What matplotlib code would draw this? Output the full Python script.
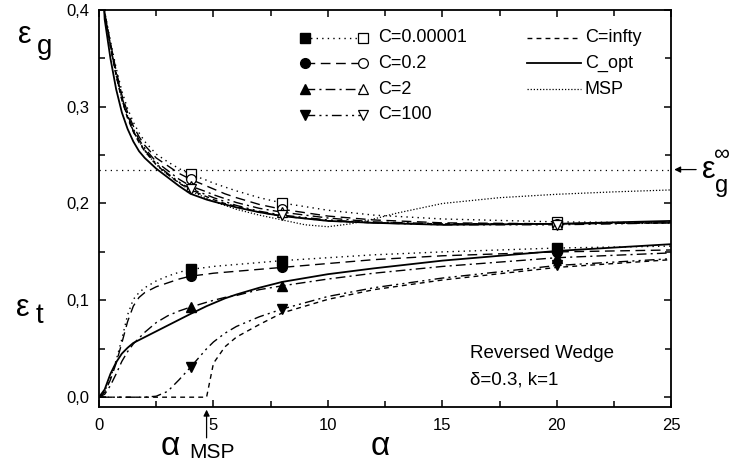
import matplotlib.pyplot as plt
import numpy as np

plt.rcParams['font.family'] = ['Liberation Sans', 'DejaVu Sans']

# alpha grid shared by the C curves
alpha = [0, 0.25, 0.5, 0.75, 1, 1.25, 1.5, 1.75, 2, 2.5, 3, 3.5, 4, 4.7, 5,
         5.5, 6, 7, 8, 10, 12, 15, 20, 25]

# generalisation error eps_g (upper curves)
eg_c00001 = [0.5, 0.398, 0.368, 0.340, 0.316, 0.298, 0.284, 0.273, 0.264, 0.251, 0.243, 0.236,
             0.230, 0.224, 0.221, 0.217, 0.213, 0.206, 0.2005, 0.193, 0.188, 0.184, 0.181, 0.180]
eg_c02 = [0.5, 0.397, 0.366, 0.337, 0.312, 0.294, 0.280, 0.269, 0.260, 0.247, 0.239, 0.231,
          0.225, 0.218, 0.215, 0.210, 0.206, 0.199, 0.194, 0.187, 0.183, 0.180, 0.179, 0.180]
eg_c2 = [0.5, 0.396, 0.364, 0.335, 0.310, 0.291, 0.277, 0.266, 0.257, 0.243, 0.234, 0.225,
         0.218, 0.212, 0.209, 0.205, 0.201, 0.195, 0.191, 0.185, 0.181, 0.179, 0.179, 0.181]
eg_c100 = [0.5, 0.396, 0.363, 0.333, 0.308, 0.289, 0.275, 0.264, 0.255, 0.241, 0.231, 0.222,
           0.215, 0.209, 0.206, 0.202, 0.198, 0.192, 0.188, 0.183, 0.180, 0.178, 0.178, 0.180]
eg_cinf = [0.5, 0.395, 0.362, 0.332, 0.307, 0.288, 0.274, 0.263, 0.254, 0.240, 0.230, 0.221,
           0.214, 0.207, 0.204, 0.200, 0.197, 0.191, 0.187, 0.182, 0.180, 0.179, 0.179, 0.180]
eg_copt = [0.5, 0.390, 0.350, 0.318, 0.294, 0.277, 0.264, 0.254, 0.247, 0.236, 0.227, 0.218,
           0.210, 0.204, 0.202, 0.199, 0.196, 0.191, 0.187, 0.182, 0.180, 0.178, 0.179, 0.182]

# training error eps_t (lower curves)
et_c00001 = [0, 0.006, 0.020, 0.038, 0.060, 0.085, 0.101, 0.108, 0.113, 0.120, 0.125, 0.129,
             0.132, 0.134, 0.135, 0.136, 0.137, 0.139, 0.141, 0.144, 0.147, 0.150, 0.154, 0.156]
et_c02 = [0, 0.005, 0.018, 0.035, 0.056, 0.078, 0.094, 0.103, 0.108, 0.114, 0.118, 0.122,
          0.125, 0.127, 0.128, 0.129, 0.130, 0.132, 0.134, 0.138, 0.142, 0.146, 0.150, 0.152]
et_c2 = [0, 0.003, 0.012, 0.024, 0.037, 0.047, 0.055, 0.061, 0.067, 0.077, 0.084, 0.089,
         0.093, 0.098, 0.100, 0.103, 0.105, 0.111, 0.115, 0.122, 0.128, 0.135, 0.144, 0.149]
et_c100 = [0, 0, 0, 0, 0, 0, 0, 0, 0, 0.001, 0.006, 0.018,
           0.031, 0.050, 0.057, 0.066, 0.073, 0.083, 0.091, 0.104, 0.113, 0.123, 0.136, 0.143]
et_cinf = [0, 0, 0, 0, 0, 0, 0, 0, 0, 0, 0, 0,
           0, 0, 0.035, 0.052, 0.062, 0.075, 0.087, 0.101, 0.111, 0.121, 0.134, 0.142]
et_copt = [0, 0.008, 0.024, 0.036, 0.045, 0.051, 0.056, 0.059, 0.062, 0.068, 0.074, 0.080,
           0.086, 0.094, 0.097, 0.102, 0.106, 0.113, 0.119, 0.127, 0.133, 0.141, 0.151, 0.158]

# MSP generalisation error
alpha_msp_curve = [0, 0.25, 0.5, 0.75, 1, 1.5, 2, 2.5, 3, 4, 5, 6, 7, 8, 9, 10, 11, 12, 13,
                   14, 15, 17.5, 20, 22.5, 25]
eg_msp = [0.5, 0.395, 0.362, 0.332, 0.307, 0.274, 0.254, 0.240, 0.230, 0.213, 0.202, 0.194,
          0.188, 0.183, 0.178, 0.176, 0.179, 0.184, 0.190, 0.195, 0.200, 0.206, 0.2095, 0.212, 0.214]

eg_inf = 0.235
alpha_msp = 4.7
marker_alpha = [4, 8, 20]

legend_labels = ['C=0.00001', 'C=0.2', 'C=2', 'C=100']
legend_labels2 = ['C=infty', 'C_opt', 'MSP']
xtick_vals = [0, 5, 10, 15, 20, 25]
ytick_vals = [0.0, 0.1, 0.2, 0.3, 0.4]
ytick_labels = ['0,0', '0,1', '0,2', '0,3', '0,4']

styles = [(0, (1, 3)), (0, (7, 4)), (0, (7, 3, 1.5, 3)), (0, (7, 3, 1.5, 3, 1.5, 3))]
markers = ['s', 'o', '^', 'v']
msizes = [6.5, 7, 7.5, 7.5]
eg_list = [eg_c00001, eg_c02, eg_c2, eg_c100]
et_list = [et_c00001, et_c02, et_c2, et_c100]

fig = plt.figure(figsize=(7.33, 4.65), dpi=100)
ax = fig.add_axes([0.135, 0.125, 0.781, 0.854])

idx = [alpha.index(a) for a in marker_alpha]
for eg, et, ls, m, ms in zip(eg_list, et_list, styles, markers, msizes):
    ax.plot(alpha, eg, color='k', lw=1.0, ls=ls)
    ax.plot(alpha, et, color='k', lw=1.0, ls=ls)
    ax.plot(marker_alpha, [eg[i] for i in idx], ls='none', marker=m, ms=ms,
            mfc='white', mec='k', mew=0.9, zorder=5)
    ax.plot(marker_alpha, [et[i] for i in idx], ls='none', marker=m, ms=ms,
            mfc='k', mec='k', zorder=5)

ax.plot(alpha, eg_cinf, color='k', lw=1.0, ls=(0, (3.5, 3)))
ax.plot(alpha, et_cinf, color='k', lw=1.0, ls=(0, (3.5, 3)))
ax.plot(alpha, eg_copt, color='k', lw=1.3)
ax.plot(alpha, et_copt, color='k', lw=1.3)
ax.plot(alpha_msp_curve, eg_msp, color='k', lw=0.9, ls=(0, (1, 1.5)))
ax.axhline(eg_inf, color='k', lw=0.9, ls=(0, (1, 3.5)))

ax.set_xlim(0, 25)
ax.set_ylim(-0.01, 0.4)
ax.set_xticks(xtick_vals)
ax.set_xticks(np.arange(0, 25.1, 2.5), minor=True)
ax.set_yticks(ytick_vals)
ax.set_yticklabels(ytick_labels)
ax.set_yticks(np.arange(0, 0.401, 0.05), minor=True)
ax.tick_params(which='both', direction='in', top=True, right=True, width=1.1,
               labelsize=12)
ax.tick_params(which='major', length=5)
ax.tick_params(which='minor', length=4.5)
ax.tick_params(axis='x', pad=8)
ax.tick_params(axis='y', pad=7)
for sp in ax.spines.values():
    sp.set_linewidth(1.3)

# legend, drawn by hand
rows = [0.929, 0.865, 0.800, 0.735]
for r, ls, m, ms, lab in zip(rows, styles, markers, msizes, legend_labels):
    ax.plot([0.360, 0.462], [r, r], transform=ax.transAxes, color='k', lw=1.0, ls=ls)
    ax.plot([0.360], [r], transform=ax.transAxes, marker=m, ms=ms, color='k')
    ax.plot([0.462], [r], transform=ax.transAxes, marker=m, ms=ms, mfc='white',
            mec='k', mew=0.9)
    ax.text(0.488, r, lab, transform=ax.transAxes, fontsize=13, va='center')
for r, ls, lw, lab in zip(rows[:3], [(0, (3.5, 3)), '-', (0, (1, 1.5))], [1.0, 1.3, 0.9],
                          legend_labels2):
    ax.plot([0.748, 0.842], [r, r], transform=ax.transAxes, color='k', lw=lw, ls=ls)
    ax.text(0.849, r, lab, transform=ax.transAxes, fontsize=13, va='center')

ax.text(16.2, 0.040, 'Reversed Wedge', fontsize=13.5)
ax.text(16.2, 0.013, 'δ=0.3, k=1', fontsize=13.5)

# arrows
ax.annotate('', xy=(alpha_msp, 0), xycoords=('data', 'axes fraction'),
            xytext=(alpha_msp, -0.085), textcoords=('data', 'axes fraction'),
            arrowprops=dict(arrowstyle='-|>', color='k', lw=0.9, mutation_scale=9))
ax.annotate('', xy=(1.0, eg_inf), xycoords=('axes fraction', 'data'),
            xytext=(1.048, eg_inf), textcoords=('axes fraction', 'data'),
            arrowprops=dict(arrowstyle='-|>', color='k', lw=0.9, mutation_scale=9))

W, H = 733, 465
def ftext(x, y, s, size):
    fig.text(x / W, 1 - y / H, s, fontsize=size, ha='center', va='center')

ftext(25, 35, 'ε', 22)
ftext(45, 47, 'g', 20)
ftext(23, 308, 'ε', 22)
ftext(39, 316, 't', 20)
ftext(709, 170, 'ε', 22)
ftext(721, 155, '∞', 16)
ftext(722, 186, 'g', 17)
ftext(380, 446, 'α', 24)
ftext(170, 446, 'α', 24)
ftext(212, 452, 'MSP', 15)

fig.savefig('out.png', dpi=100)
